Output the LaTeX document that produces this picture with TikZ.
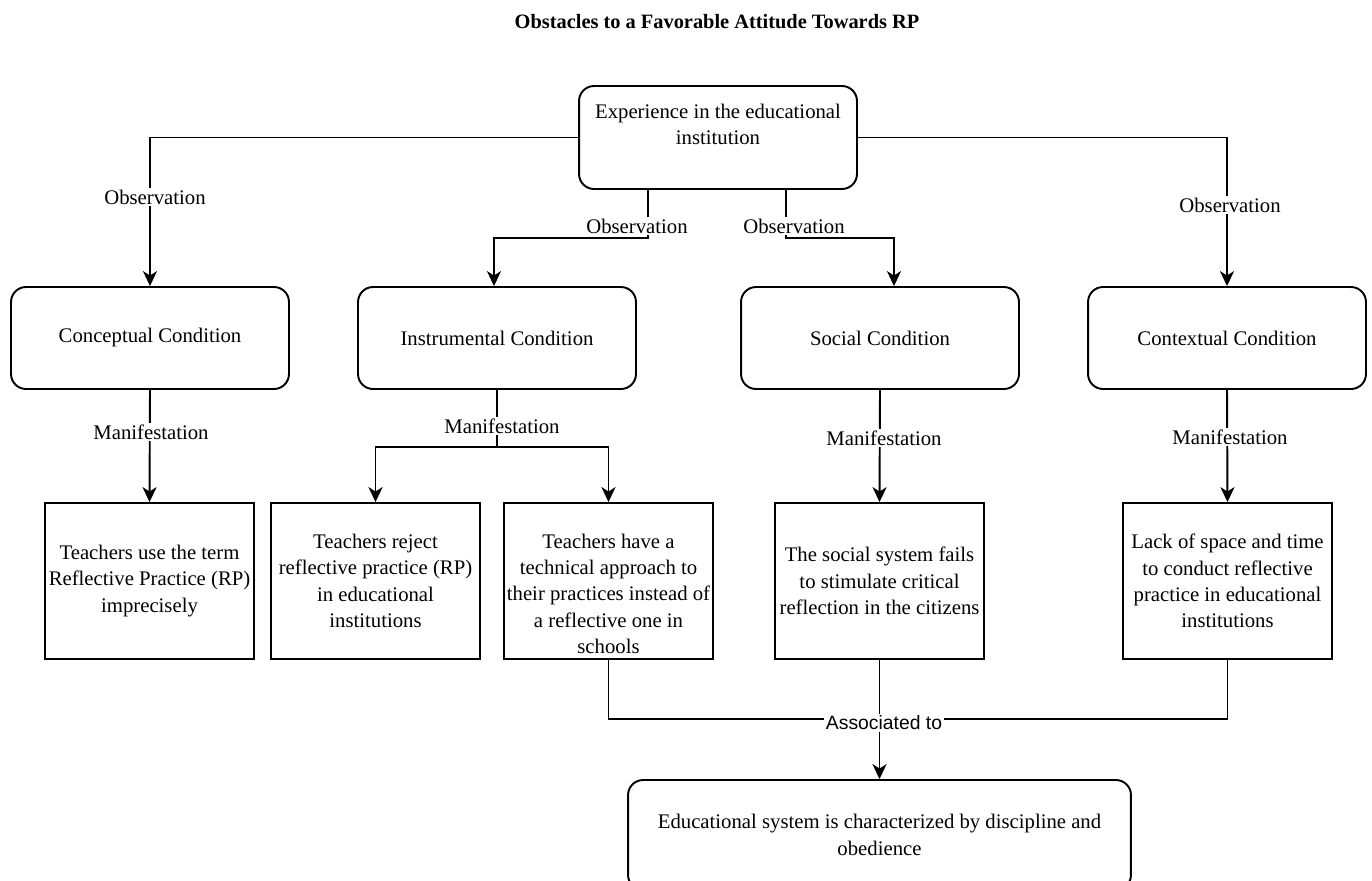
\documentclass[tikz,border=0pt]{standalone}
\usepackage{fontspec}
\setmainfont{Liberation Serif}
\newfontfamily\lblsans{Liberation Sans}
\usetikzlibrary{arrows.meta}

\begin{document}
\begin{tikzpicture}[x = 0.02cm, y = -0.02cm, font=\fontsize{11.8}{15}\selectfont, line width = 1.1pt]
	\tikzstyle{roundStyle} = [shape = rectangle, rounded corners = 0.3cm, draw, align = center, minimum width = 5.56cm, minimum height = 2.04cm, inner sep = 0pt]
	\tikzstyle{squareStyle} = [shape = rectangle, draw, align = center, minimum width = 4.18cm, minimum height = 3.12cm, inner sep = 0pt]
	\tikzstyle{edgeLabel} = [fill = white, inner sep = 1pt]
	\tikzstyle{arrowStyle} = [-{Stealth[length = 8.5pt, width = 8pt, inset = 2.5pt]}]
	\useasboundingbox (0,0) rectangle (1372,880);
	\node[font = \fontsize{11.6}{14}\selectfont\bfseries] (title) at (717,22) {Obstacles to a Favorable Attitude Towards RP};
	% top
	\node[roundStyle, minimum height = 2.06cm] (exp) at (718,137.5) {Experience in the educational\\institution\\\vphantom{X}};
	% conditions
	\node[roundStyle] (concept) at (150,338) {Conceptual Condition};
	\node[roundStyle] (instr) at (497,338) {Instrumental Condition};
	\node[roundStyle] (social) at (880,338) {Social Condition};
	\node[roundStyle] (context) at (1227,338) {Contextual Condition};
	% manifestations
	\node[squareStyle] (impre) at (149.5,581) {Teachers use the term\\Reflective Practice (RP)\\imprecisely};
	\node[squareStyle] (reject) at (375.5,581) {Teachers reject\\reflective practice (RP)\\in educational\\institutions};
	\node[squareStyle] (techn) at (608.5,581) {\vphantom{X}\\Teachers have a\\technical approach to\\their practices instead of\\a reflective one in\\schools};
	\node[squareStyle] (stimul) at (879.5,581) {The social system fails\\to stimulate critical\\reflection in the citizens};
	\node[squareStyle] (space) at (1227.5,581) {Lack of space and time\\to conduct reflective\\practice in educational\\institutions};
	\node[roundStyle, minimum width = 10.06cm, minimum height = 2.2cm] (edu) at (879.5,835) {Educational system is characterized by discipline and\\obedience};
	\coordinate (join) at (880,719);
	% observation edges
	\draw[arrowStyle] (exp.west) -| (concept.north);
	\draw[arrowStyle] (exp.east) -| (context.north);
	\draw[arrowStyle] ([xshift = -1.4cm]exp.south) -- ++(0,48) -| ([xshift = -0.06cm]instr.north);
	\draw[arrowStyle] ([xshift = 1.36cm]exp.south) -- ++(0,48) -| ([xshift = 0.28cm]social.north);
	\node[edgeLabel] (obs1) at (155,197) {Observation};
	\node[edgeLabel] (obs2) at (637,226) {Observation};
	\node[edgeLabel] (obs3) at (794,226) {Observation};
	\node[edgeLabel] (obs4) at (1230,205) {Observation};
	% manifestation edges
	\draw[arrowStyle] (concept.south) -- (impre.north);
	\draw[arrowStyle] (instr.south) -- ++(0,57) -| (reject.north);
	\draw[arrowStyle] (instr.south) -- ++(0,57) -| (techn.north);
	\draw[arrowStyle] (social.south) -- (stimul.north);
	\draw[arrowStyle] (context.south) -- (space.north);
	\node[edgeLabel] (man1) at (151,432) {Manifestation};
	\node[edgeLabel] (man2) at (502,426) {Manifestation};
	\node[edgeLabel] (man3) at (884,438) {Manifestation};
	\node[edgeLabel] (man4) at (1230,437) {Manifestation};
	% associated
	\draw (techn.south) |- (join);
	\draw (space.south) |- (join);
	\draw[arrowStyle] (stimul.south) -- (edu.north);
	\node[edgeLabel, font = \fontsize{11}{13}\lblsans] (assoc) at (884,723) {Associated to};
\end{tikzpicture}
\end{document}
